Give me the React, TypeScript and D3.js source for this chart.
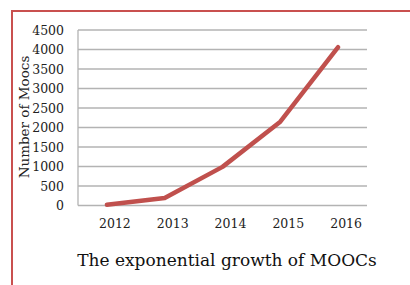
import React from "react";
import * as d3 from "d3";

const years = ["2012", "2013", "2014", "2015", "2016"];
const moocs = [20, 190, 990, 2150, 4060];
const yTicks = [0, 500, 1000, 1500, 2000, 2500, 3000, 3500, 4000, 4500];

const W = 410;
const H = 285;
const serif = "'DejaVu Serif', serif";

const App = () => {
  const x = d3.scaleBand().domain(years).range([78, 367]);
  const y = d3.scaleLinear().domain([0, 4500]).range([205.5, 30]);
  const line = d3
    .line<number>()
    .x((d, i) => (x(years[i]) as number) + x.bandwidth() / 2)
    .y(d => y(d));

  return (
    <svg
      width={W}
      height={H}
      style={{ position: "absolute", left: 0, top: 0, background: "#fff" }}
    >
      {/* frame: only top and left show */}
      <line x1={12} x2={W} y1={11} y2={11} stroke="#c9504f" strokeWidth={2} />
      <line x1={12} x2={12} y1={10} y2={H} stroke="#c9504f" strokeWidth={2} />

      {yTicks.map(t => (
        <g key={t}>
          <line x1={78} x2={367} y1={y(t)} y2={y(t)} stroke="#b3b3b3" strokeWidth={1.3} />
          <text
            x={64}
            y={y(t) + 4.5}
            textAnchor="end"
            fontFamily={serif}
            fontSize={12.5}
            fill="#222"
          >
            {t}
          </text>
        </g>
      ))}
      <line x1={78} x2={78} y1={y(4500)} y2={y(0)} stroke="#b3b3b3" strokeWidth={1.3} />

      <path
        d={line(moocs) || ""}
        fill="none"
        stroke="#c0504d"
        strokeWidth={4.5}
        strokeLinejoin="round"
        strokeLinecap="round"
      />

      {years.map(yr => (
        <text
          key={yr}
          x={(x(yr) as number) + x.bandwidth() / 2 + 8}
          y={228}
          textAnchor="middle"
          fontFamily={serif}
          fontSize={12.5}
          fill="#222"
        >
          {yr}
        </text>
      ))}

      <text
        transform={`translate(29,117) rotate(-90)`}
        textAnchor="middle"
        fontFamily={serif}
        fontSize={13.5}
        fill="#222"
      >
        Number of Moocs
      </text>

      <text
        x={227}
        y={266}
        textAnchor="middle"
        fontFamily={serif}
        fontSize={17}
        fill="#111"
      >
        The exponential growth of MOOCs
      </text>
    </svg>
  );
};

export default App;
